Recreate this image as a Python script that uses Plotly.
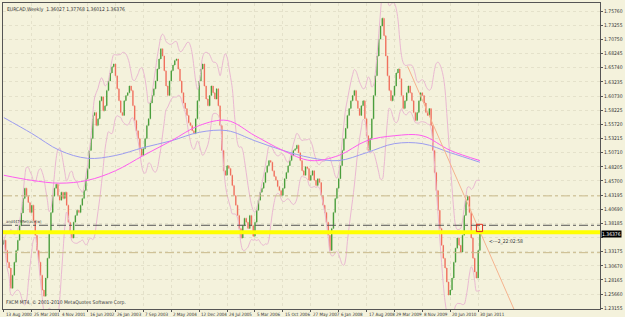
import plotly.graph_objects as go
import pandas as pd

# ---------------- data ----------------
symbol_title = "EURCAD,Weekly  1.36027 1.37768 1.36012 1.36376"
copyright_text = "FXCM MT4, \u00a9 2001-2010 MetaQuotes Software Corp."

start_open = 1.345
# bi-weekly closes (Aug 2000 .. Jan 2011)
closes = [
    1.352, 1.334, 1.313, 1.303, 1.267, 1.290, 1.313, 1.334, 1.352, 1.378,
    1.400, 1.426, 1.444, 1.430, 1.419, 1.401, 1.414, 1.387, 1.361, 1.334,
    1.313, 1.290, 1.264, 1.253, 1.285, 1.320, 1.366, 1.401, 1.430, 1.444,
    1.451, 1.431, 1.423, 1.437, 1.426, 1.437, 1.414, 1.384, 1.366, 1.356,
    1.384, 1.396, 1.405, 1.401, 1.414, 1.426, 1.440, 1.461, 1.479, 1.511,
    1.532, 1.573, 1.578, 1.555, 1.567, 1.599, 1.606, 1.581, 1.590, 1.617,
    1.634, 1.648, 1.659, 1.664, 1.643, 1.620, 1.599, 1.578, 1.573, 1.599,
    1.608, 1.613, 1.625, 1.617, 1.590, 1.564, 1.546, 1.532, 1.514, 1.502,
    1.514, 1.532, 1.555, 1.567, 1.595, 1.608, 1.620, 1.634, 1.655, 1.673,
    1.691, 1.678, 1.652, 1.625, 1.608, 1.634, 1.652, 1.662, 1.670, 1.673,
    1.655, 1.634, 1.613, 1.595, 1.585, 1.573, 1.560, 1.555, 1.546, 1.541,
    1.567, 1.599, 1.634, 1.655, 1.664, 1.625, 1.602, 1.590, 1.608, 1.625,
    1.613, 1.602, 1.620, 1.590, 1.555, 1.511, 1.475, 1.467, 1.484, 1.479,
    1.467, 1.449, 1.431, 1.414, 1.396, 1.373, 1.356, 1.378, 1.391, 1.384,
    1.373, 1.396, 1.378, 1.359, 1.384, 1.405, 1.423, 1.437, 1.444, 1.454,
    1.472, 1.484, 1.493, 1.490, 1.475, 1.465, 1.458, 1.447, 1.440, 1.431,
    1.444, 1.461, 1.472, 1.484, 1.493, 1.502, 1.511, 1.514, 1.520, 1.507,
    1.493, 1.475, 1.467, 1.482, 1.479, 1.458, 1.467, 1.475, 1.458, 1.449,
    1.461, 1.454, 1.431, 1.414, 1.401, 1.384, 1.361, 1.334, 1.373, 1.401,
    1.426, 1.444, 1.461, 1.484, 1.511, 1.532, 1.550, 1.573, 1.585, 1.599,
    1.608, 1.617, 1.599, 1.585, 1.573, 1.590, 1.599, 1.567, 1.537, 1.511,
    1.532, 1.567, 1.608, 1.643, 1.678, 1.708, 1.731, 1.745, 1.714, 1.678,
    1.643, 1.617, 1.599, 1.608, 1.625, 1.648, 1.655, 1.638, 1.608, 1.585,
    1.599, 1.613, 1.625, 1.613, 1.599, 1.578, 1.564, 1.578, 1.599, 1.613,
    1.608, 1.595, 1.578, 1.573, 1.585, 1.555, 1.511, 1.472, 1.440, 1.405,
    1.373, 1.343, 1.320, 1.303, 1.278, 1.255, 1.264, 1.285, 1.313, 1.338,
    1.356, 1.343, 1.331, 1.361, 1.396, 1.423, 1.430, 1.401, 1.356, 1.320,
    1.296, 1.285, 1.334, 1.36376,
]
bar_step_weeks = 2

ma_weeks = [0, 32, 64, 96, 128, 160, 192, 224, 256, 288, 320, 352, 384, 416, 448, 480, 512, 546]
ma_slow = [1.569, 1.541, 1.511, 1.497, 1.502, 1.516, 1.528, 1.543, 1.546, 1.528,
           1.511, 1.498, 1.493, 1.507, 1.523, 1.523, 1.507, 1.490]
ma_fast = [1.467, 1.458, 1.453, 1.458, 1.475, 1.502, 1.528, 1.555, 1.564, 1.537,
           1.511, 1.493, 1.502, 1.528, 1.537, 1.537, 1.511, 1.493]

date_labels = ["13 Aug 2000", "25 Mar 2001", "4 Nov 2001", "16 Jun 2002", "26 Jan 2003",
               "7 Sep 2003", "2 May 2004", "12 Dec 2004", "24 Jul 2005", "5 Mar 2006",
               "15 Oct 2006", "27 May 2007", "6 Jan 2008", "17 Aug 2008", "29 Mar 2009",
               "8 Nov 2009", "20 Jun 2010", "30 Jan 2011"]
date_weeks = [0, 32, 64, 96, 128, 160, 192, 224, 256, 288, 320, 352, 384, 416, 448, 480, 512, 544]

price_ticks = [1.75760, 1.73255, 1.70750, 1.68245, 1.65740, 1.63235, 1.60730, 1.58225,
               1.55720, 1.53215, 1.50710, 1.48205, 1.45700, 1.43195, 1.40690, 1.38185,
               1.35680, 1.33175, 1.30670, 1.28165, 1.25660, 1.23155]

current_price = 1.36376
yellow_level = 1.3663
gray_level = 1.3785
fibo_levels = [1.4305, 1.3300]
trend_weeks = [463, 585]
trend_prices = [1.660, 1.230]
box_weeks = [542, 549]
box_prices = [1.3673, 1.3802]
timer_text = "<---2_22:02:58"
timer_pos = (554, 1.3491)
level_text = "and4479Retrace(w)"

x_range = [-1, 683.7]
y_range = [1.2303, 1.7719]

# ---------------- figure ----------------
n = len(closes)
weeks = [i * bar_step_weeks for i in range(n)]
opens = [start_open] + closes[:-1]
highs = [max(o, c) for o, c in zip(opens, closes)]
lows = [min(o, c) for o, c in zip(opens, closes)]

s = pd.Series(closes)
mid = s.rolling(10, min_periods=1).mean()
sd = s.rolling(10, min_periods=1).std(ddof=0)
bb_up = mid + 2 * sd
bb_dn = mid - 2 * sd

BG = "#f4f2dc"
fig = go.Figure()

for band in (bb_up, bb_dn):
    fig.add_trace(go.Scatter(x=weeks, y=band, mode="lines",
                             line=dict(color="#eab8d2", width=1, shape="spline"),
                             hoverinfo="skip", showlegend=False))

fig.add_trace(go.Scatter(x=ma_weeks, y=ma_slow, mode="lines",
                         line=dict(color="#9c9cf0", width=1, shape="spline"),
                         showlegend=False))
fig.add_trace(go.Scatter(x=ma_weeks, y=ma_fast, mode="lines",
                         line=dict(color="#ff5cf0", width=1, shape="spline"),
                         showlegend=False))

fig.add_trace(go.Ohlc(x=weeks, open=opens, high=highs, low=lows, close=closes,
                      increasing=dict(line=dict(color="#4a9e3c", width=1.4)),
                      decreasing=dict(line=dict(color="#f0705e", width=1.4)),
                      tickwidth=0.2, showlegend=False))

fig.add_trace(go.Scatter(x=trend_weeks, y=trend_prices, mode="lines",
                         line=dict(color="#f5b38e", width=1), showlegend=False))

shapes = []
shapes.append(dict(type="line", xref="paper", x0=0, x1=1, yref="y",
                   y0=yellow_level, y1=yellow_level,
                   line=dict(color="#ffff00", width=4), layer="above"))
shapes.append(dict(type="line", xref="paper", x0=0, x1=1, yref="y",
                   y0=gray_level, y1=gray_level,
                   line=dict(color="#555555", width=1, dash="dashdot"), layer="above"))
for lv in fibo_levels:
    shapes.append(dict(type="line", xref="paper", x0=0, x1=1, yref="y", y0=lv, y1=lv,
                       line=dict(color="#c9b98a", width=1, dash="dashdot"), layer="above"))
shapes.append(dict(type="rect", xref="x", yref="y", x0=box_weeks[0], x1=box_weeks[1],
                   y0=box_prices[0], y1=box_prices[1],
                   line=dict(color="#e03020", width=1), layer="above"))

F = "Liberation Sans Narrow, DejaVu Sans Condensed, Liberation Sans"
ann = []
for lab, w in zip(date_labels, date_weeks):
    ann.append(dict(x=w, xref="x", y=0, yref="paper", text=lab, showarrow=False,
                    xanchor="left", yanchor="top", yshift=-1,
                    font=dict(family=F, size=4.5, color="#333333")))
ann.append(dict(x=0.003, xref="paper", y=1, yref="paper", text=symbol_title,
                showarrow=False, xanchor="left", yanchor="top", yshift=-1,
                font=dict(family=F, size=5, color="#333333")))
ann.append(dict(x=0.002, xref="paper", y=0, yref="paper", text=copyright_text,
                showarrow=False, xanchor="left", yanchor="bottom", yshift=1,
                font=dict(family=F, size=5, color="#333333")))
ann.append(dict(x=0.002, xref="paper", y=gray_level, yref="y", text=level_text,
                showarrow=False, xanchor="left", yanchor="bottom", yshift=-1,
                font=dict(family=F, size=4, color="#444444")))
ann.append(dict(x=timer_pos[0], xref="x", y=timer_pos[1], yref="y", text=timer_text,
                showarrow=False, xanchor="left", yanchor="middle",
                font=dict(family=F, size=5, color="#333333")))
ann.append(dict(x=1, xref="paper", y=current_price, yref="y", text="%.5f" % current_price,
                showarrow=False, xanchor="left", yanchor="middle", xshift=1,
                bgcolor="#000000", borderpad=0,
                font=dict(family=F, size=5, color="#ffffff")))

# tick label hidden behind the current-price marker, as in MT4
tick_text = ["" if abs(v - current_price) < 0.01 else "%.5f" % v for v in price_ticks]

fig.update_layout(
    width=625, height=317,
    margin=dict(l=2, r=17, t=2, b=8),
    paper_bgcolor=BG, plot_bgcolor=BG,
    showlegend=False,
    shapes=shapes, annotations=ann,
    xaxis=dict(range=x_range, rangeslider=dict(visible=False),
               tickvals=date_weeks, showticklabels=False, ticks="outside",
               ticklen=2, tickcolor="#555555",
               showgrid=True, gridcolor="#e4e1ca", griddash="dot", gridwidth=1,
               showline=True, linecolor="#555555", linewidth=1, mirror=True,
               zeroline=False),
    yaxis=dict(range=y_range, side="right", tickvals=price_ticks,
               ticktext=tick_text,
               ticks="outside", ticklen=2, tickcolor="#555555",
               tickfont=dict(family=F, size=5, color="#333333"),
               showgrid=True, gridcolor="#e4e1ca", griddash="dot", gridwidth=1,
               showline=True, linecolor="#555555", linewidth=1, mirror=True,
               zeroline=False),
)

fig.write_html("out.html")
